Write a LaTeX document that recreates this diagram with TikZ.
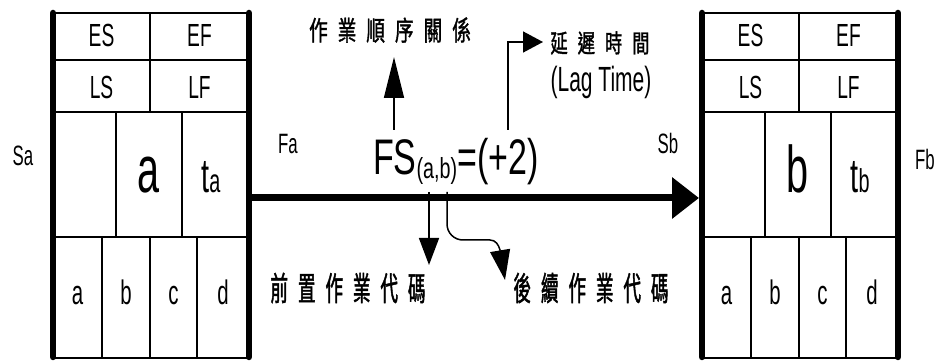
\documentclass[tikz,border=0pt]{standalone}
\usepackage{fontspec}
\setmainfont[FakeStretch=0.6]{Liberation Sans}
\newfontfamily\fsfont[FakeStretch=0.68]{Liberation Sans}
\newfontfamily\cjkA[FakeStretch=0.69,FakeBold=1.3]{Noto Sans CJK TC}
\newfontfamily\cjkB[FakeStretch=0.53,FakeBold=1.3]{Noto Sans CJK TC}
\usetikzlibrary{arrows.meta}
\newcommand\fsz[1]{\fontsize{#1}{#1}\selectfont}
\newcommand\cgap{\hspace{10pt}}
\tikzset{
  grid/.style={line width=1.4pt},
  frame/.style={line width=6.5pt, line cap=round},
  txt/.style={inner sep=0pt, anchor=base},
  conn/.style={line width=1.5pt},
  mainarrow/.style={line width=7pt, -{Triangle[length=27pt,width=40pt]}},
}
\newcommand\actbox[4]{%
\begin{scope}[shift={(#1,0)}]
  \draw[grid] (0,13) -- (196,13);
  \draw[grid] (0,60) -- (196,60);
  \draw[grid] (0,112) -- (196,112);
  \draw[grid] (0,237) -- (196,237);
  \draw[grid] (0,358) -- (196,358);
  \draw[grid] (97,13) -- (97,112);
  \draw[grid] (63,112) -- (63,237);
  \draw[grid] (129,112) -- (129,237);
  \draw[grid] (49,237) -- (49,358);
  \draw[grid] (97,237) -- (97,358);
  \draw[grid] (144,237) -- (144,358);
  \draw[frame] (0,13) -- (0,357);
  \draw[frame] (196,13) -- (196,357);
  \node[txt, font=\fsz{32}] (#2es) at (48.5,47) {ES};
  \node[txt, font=\fsz{32}] (#2ef) at (146.5,47) {EF};
  \node[txt, font=\fsz{32}] (#2ls) at (48.5,99) {LS};
  \node[txt, font=\fsz{32}] (#2lf) at (146.5,99) {LF};
  \node[txt, font=\fsz{66}] (#2big) at (96,193) {#3};
  \node[txt, font=\fsz{48}] (#2dur) at (158,193) {t{\fsz{33}#4}};
  \node[txt, font=\fsz{34}] (#2ca) at (24.5,305) {a};
  \node[txt, font=\fsz{34}] (#2cb) at (73,305) {b};
  \node[txt, font=\fsz{34}] (#2cc) at (120.5,305) {c};
  \node[txt, font=\fsz{34}] (#2cd) at (170,305) {d};
  \coordinate (#2in) at (0,198);
  \coordinate (#2out) at (196,198);
\end{scope}}
\begin{document}
\begin{tikzpicture}[x=1pt,y=-1pt]
\useasboundingbox (0,0) rectangle (940,363);
\actbox{53}{A}{a}{a}
\actbox{702}{B}{b}{b}
% main connector
\coordinate (Bhead) at (699,198);
\draw[mainarrow] (Aout) -- (Bhead);
% side labels
\node[txt, font=\fsz{28}] (sa) at (23,166) {Sa};
\node[txt, font=\fsz{28}] (fa) at (288,154) {Fa};
\node[txt, font=\fsz{28}] (sb) at (668,154) {Sb};
\node[txt, font=\fsz{28}] (fb) at (925,170) {Fb};
% FS expression
\node[inner sep=0pt, anchor=base west] (fs) at (373,175)
  {\fsfont\fsz{50}FS\raisebox{-4pt}{\fsz{29}(a,b)}=(+2)};
% texts
\node[inner sep=0pt, font=\cjkA\fsz{27}] (rel) at (390,30)
  {作\cgap 業\cgap 順\cgap 序\cgap 關\cgap 係};
\node[inner sep=0pt, font=\cjkA\fsz{25}] (lag) at (600,43)
  {延\cgap 遲\cgap 時\cgap 間};
\node[txt, font=\fsz{35}] (lagen) at (601,92) {(Lag Time)};
\node[inner sep=0pt, font=\cjkB\fsz{33}] (pred) at (348,288)
  {前\cgap 置\cgap 作\cgap 業\cgap 代\cgap 碼};
\node[inner sep=0pt, font=\cjkB\fsz{33}] (succ) at (591,288)
  {後\cgap 續\cgap 作\cgap 業\cgap 代\cgap 碼};
% connectors
\coordinate (up0) at (394,130);
\coordinate (up1) at (394,57);
\draw[conn, -{Triangle[length=41pt,width=20pt]}] (up0) -- (up1);
\coordinate (lg0) at (508,130);
\coordinate (lg1) at (543,42);
\draw[conn, -{Triangle[length=20pt,width=21pt]}] (lg0) |- (lg1);
\coordinate (d10) at (429,192);
\coordinate (d11) at (429,265);
\draw[conn, -{Triangle[length=27pt,width=20pt]}] (d10) -- (d11);
\coordinate (d20) at (447,192);
\coordinate (d21) at (505,280);
\draw[conn, -{Triangle[length=30pt,width=20pt]}] (d20) -- (447,224)
  to[out=-90,in=180] (463,240) -- (490,240) to[out=0,in=105] (500,250) -- (d21);
\end{tikzpicture}
\end{document}
